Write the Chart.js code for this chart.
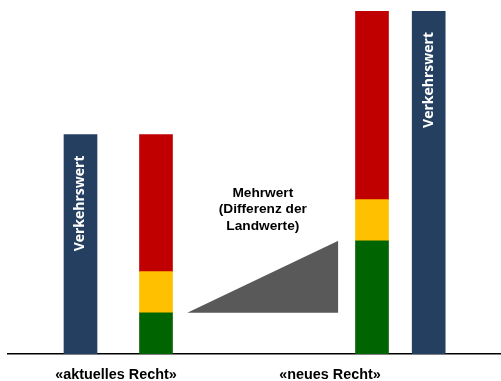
<!DOCTYPE html>
<html>
<head>
<meta charset="utf-8">
<script src="https://cdn.jsdelivr.net/npm/chart.js@4"></script>
<style>
  body { margin: 0; background: #fff; }
  #wrap { width: 501px; height: 381px; position: relative; }
</style>
</head>
<body>
<div id="wrap"><canvas id="myChart"></canvas></div>
<script>
// data
var groups = ["«aktuelles Recht»", "«neues Recht»"];
var verkehrswert = [64, 100];
var landGreen = [12, 33];
var landYellow = [12, 12];
var landRed = [40, 55];
var barLabel = "Verkehrswert";
var noteLines = ["Mehrwert", "(Differenz der", "Landwerte)"];

// horizontal layout (x scale runs in pixel-like units)
var posVerkehr = [80.5, 428.7];
var posLand = [156, 372];
var posGroupLabel = [116, 330];
var triangleX = [187.3, 338.3];

document.addEventListener("DOMContentLoaded", function() {

    var ctx = document.getElementById("myChart").getContext("2d");

    function pts(xs, ys) {
        return xs.map(function(x, i) { return { x: x, y: ys[i] }; });
    }

    var data = {
        datasets: [
            { label: "Verkehrswert", data: pts(posVerkehr, verkehrswert), backgroundColor: "#243F60", stack: "a" },
            { label: "gruen", data: pts(posLand, landGreen), backgroundColor: "#006400", stack: "a" },
            { label: "gelb", data: pts(posLand, landYellow), backgroundColor: "#FFC000", stack: "a" },
            { label: "rot", data: pts(posLand, landRed), backgroundColor: "#C00000", stack: "a" },
            {
                type: "line",
                label: "Mehrwert",
                stack: "tri",
                data: pts(triangleX, landGreen),
                borderWidth: 0,
                borderColor: "rgba(0,0,0,0)",
                backgroundColor: "#595959",
                pointRadius: 0,
                fill: { value: landGreen[0] }
            }
        ]
    };

    // white rotated text inside the blue bars + annotation text
    var textPlugin = {
        id: "texts",
        afterDatasetsDraw: function(chart) {
            var c = chart.ctx;
            var meta = chart.getDatasetMeta(0);
            c.save();
            c.fillStyle = "#ffffff";
            c.font = "bold 14px 'Open Sans'";
            meta.data.forEach(function(bar) {
                c.save();
                c.translate(bar.x, bar.y + 21);
                c.rotate(-Math.PI / 2);
                c.textAlign = "right";
                c.textBaseline = "middle";
                c.fillText(barLabel, 0, 0);
                c.restore();
            });
            c.restore();

            var tri = chart.getDatasetMeta(4).data;
            var cx = (tri[0].x + tri[1].x) / 2;
            var topY = tri[1].y;
            c.save();
            c.fillStyle = "#000000";
            c.font = "bold 13.7px 'Liberation Sans'";
            c.textAlign = "center";
            c.textBaseline = "middle";
            noteLines.forEach(function(line, i) {
                c.fillText(line, cx, topY - 14.5 - (noteLines.length - 1 - i) * 16.7);
            });
            c.restore();
        }
    };

    var options = {
        responsive: true,
        maintainAspectRatio: false,
        animation: false,
        layout: { padding: { left: 8, right: 0, top: 11, bottom: 0 } },
        plugins: { legend: { display: false }, tooltip: { enabled: false } },
        datasets: { bar: { barThickness: 33 } },
        scales: {
            x: {
                type: "linear",
                min: 8,
                max: 501,
                offset: false,
                grid: { display: false, drawTicks: false, offset: false },
                border: { display: true, color: "#000000", width: 1.5 },
                afterFit: function(s) { s.height = 27; },
                afterBuildTicks: function(s) {
                    s.ticks = posGroupLabel.map(function(v) { return { value: v }; });
                },
                ticks: {
                    padding: 12,
                    autoSkip: false,
                    maxRotation: 0,
                    color: "#000000",
                    font: { family: "'Liberation Sans'", size: 14.4, weight: "bold" },
                    callback: function(v, i) { return groups[i]; }
                }
            },
            y: {
                display: false,
                stacked: true,
                min: 0,
                max: 100
            }
        }
    };

    var myNewChart = new Chart(ctx, {
        type: "bar",
        data: data,
        options: options,
        plugins: [textPlugin]
    });
});
</script>
</body>
</html>
